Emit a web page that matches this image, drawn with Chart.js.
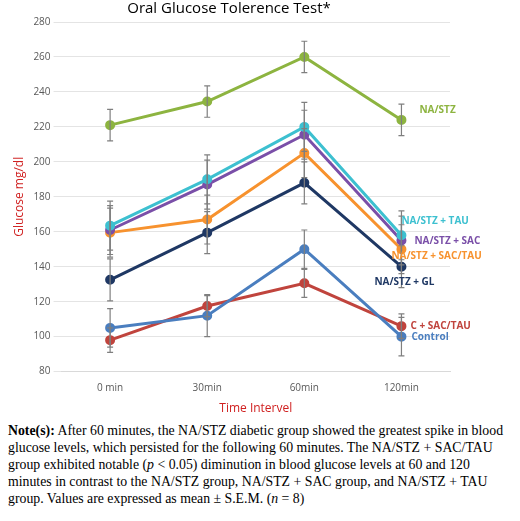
<!DOCTYPE html>
<html>
<head>
<meta charset="utf-8">
<script src="https://cdn.jsdelivr.net/npm/chart.js@4/dist/chart.umd.min.js"></script>
<style>
  body { margin: 0; background: #fff; }
  #wrap { width: 520px; height: 420px; position: relative; }
  #note { font-family: "Liberation Serif", "Times New Roman", serif; font-size: 13.8px; line-height: 17px; padding: 2px 6px 0 8px; color: #000; }
</style>
</head>
<body>
<div id="wrap"><canvas id="ogtt"></canvas></div>
<div id="note"><b>Note(s):</b> After 60 minutes, the NA/STZ diabetic group showed the greatest spike in blood glucose levels, which persisted for the following 60 minutes. The NA/STZ + SAC/TAU group exhibited notable (<i>p</i> &lt; 0.05) diminution in blood glucose levels at 60 and 120 minutes in contrast to the NA/STZ group, NA/STZ + SAC group, and NA/STZ + TAU group. Values are expressed as mean ± S.E.M. (<i>n</i> = 8)</div>
<script>
const timePoints = ['0 min', '30min', '60min', '120min'];
const naStz = [221, 234.5, 260, 224];
const naStzTau = [163.5, 190, 220, 158];
const naStzSac = [161, 187, 215.5, 155];
const naStzSacTau = [159.5, 167, 205, 150];
const naStzGl = [132.5, 159.5, 188, 140];
const control = [105, 112, 150, 100];
const cSacTau = [98, 117.5, 130.5, 106];
// S.E.M. (half-length of error bars)
const errNaStz = [9, 9, 9, 9];
const errNaStzTau = [14, 14, 14, 14];
const errNaStzSac = [14, 14, 14, 14];
const errNaStzSacTau = [14, 14, 14, 14];
const errNaStzGl = [12, 12, 12, 12];
const errControl = [11, 12, 11, 11];
const errCSacTau = [7, 6, 8, 7];

const series = [
  { label: 'NA/STZ', data: naStz, err: errNaStz, color: '#8DB440', dx: 18, dy: -10 },
  { label: 'NA/STZ + TAU', data: naStzTau, err: errNaStzTau, color: '#3DC0D0', dx: 0, dy: -14 },
  { label: 'NA/STZ + SAC', data: naStzSac, err: errNaStzSac, color: '#7A4FA8', dx: 13, dy: 1 },
  { label: 'NA/STZ + SAC/TAU', data: naStzSacTau, err: errNaStzSacTau, color: '#F7922E', dx: -10, dy: 7 },
  { label: 'NA/STZ + GL', data: naStzGl, err: errNaStzGl, color: '#1F3864', dx: -27, dy: 15 },
  { label: 'Control', data: control, err: errControl, color: '#4A7EBF', dx: 10, dy: 1 },
  { label: 'C + SAC/TAU', data: cSacTau, err: errCSacTau, color: '#C0443D', dx: 9, dy: 0 }
];

const errorBars = {
  id: 'errorBars',
  afterDatasetsDraw(chart) {
    const ctx = chart.ctx, y = chart.scales.y;
    ctx.save();
    ctx.strokeStyle = '#7F7F7F';
    ctx.lineWidth = 1.2;
    chart.data.datasets.forEach((ds, i) => {
      chart.getDatasetMeta(i).data.forEach((pt, j) => {
        const e = series[i].err[j];
        const top = y.getPixelForValue(ds.data[j] + e), bot = y.getPixelForValue(ds.data[j] - e);
        ctx.beginPath();
        ctx.moveTo(pt.x, top); ctx.lineTo(pt.x, bot);
        ctx.moveTo(pt.x - 3, top); ctx.lineTo(pt.x + 3, top);
        ctx.moveTo(pt.x - 3, bot); ctx.lineTo(pt.x + 3, bot);
        ctx.stroke();
      });
    });
    ctx.font = 'bold 10px "Open Sans", sans-serif';
    ctx.textBaseline = 'middle';
    chart.data.datasets.forEach((ds, i) => {
      const meta = chart.getDatasetMeta(i);
      const pt = meta.data[meta.data.length - 1];
      ctx.fillStyle = series[i].color;
      ctx.fillText(series[i].label, pt.x + series[i].dx, pt.y + series[i].dy);
    });
    ctx.restore();
  }
};

new Chart(document.getElementById('ogtt'), {
  type: 'line',
  data: {
    labels: timePoints,
    datasets: series.map(s => ({
      label: s.label,
      data: s.data,
      borderColor: s.color,
      backgroundColor: s.color,
      borderWidth: 3,
      pointRadius: 3.5,
      tension: 0
    }))
  },
  options: {
    responsive: true,
    maintainAspectRatio: false,
    animation: false,
    layout: { padding: { left: 8, right: 70, top: 0, bottom: 0 } },
    plugins: {
      legend: { display: false },
      tooltip: { enabled: false },
      title: {
        display: true,
        text: 'Oral Glucose Tolerence Test*',
        color: '#000',
        font: { family: '"Open Sans", sans-serif', size: 15, weight: 'normal' },
        padding: { top: 0, bottom: 4 }
      }
    },
    scales: {
      x: {
        offset: true,
        grid: { display: false },
        border: { color: '#D9D9D9' },
        ticks: { color: '#595959', font: { family: '"Open Sans", sans-serif', size: 10 } },
        title: { display: true, text: 'Time Intervel', color: '#D02020', font: { family: '"Open Sans", sans-serif', size: 12 } }
      },
      y: {
        min: 80, max: 280,
        grid: { color: '#E4E4E4' },
        border: { display: false },
        ticks: { stepSize: 20, color: '#595959', font: { family: '"Open Sans", sans-serif', size: 10 } },
        title: { display: true, text: 'Glucose mg/dl', color: '#D02020', font: { family: '"Open Sans", sans-serif', size: 12 } }
      }
    }
  },
  plugins: [errorBars]
});
</script>
</body>
</html>
